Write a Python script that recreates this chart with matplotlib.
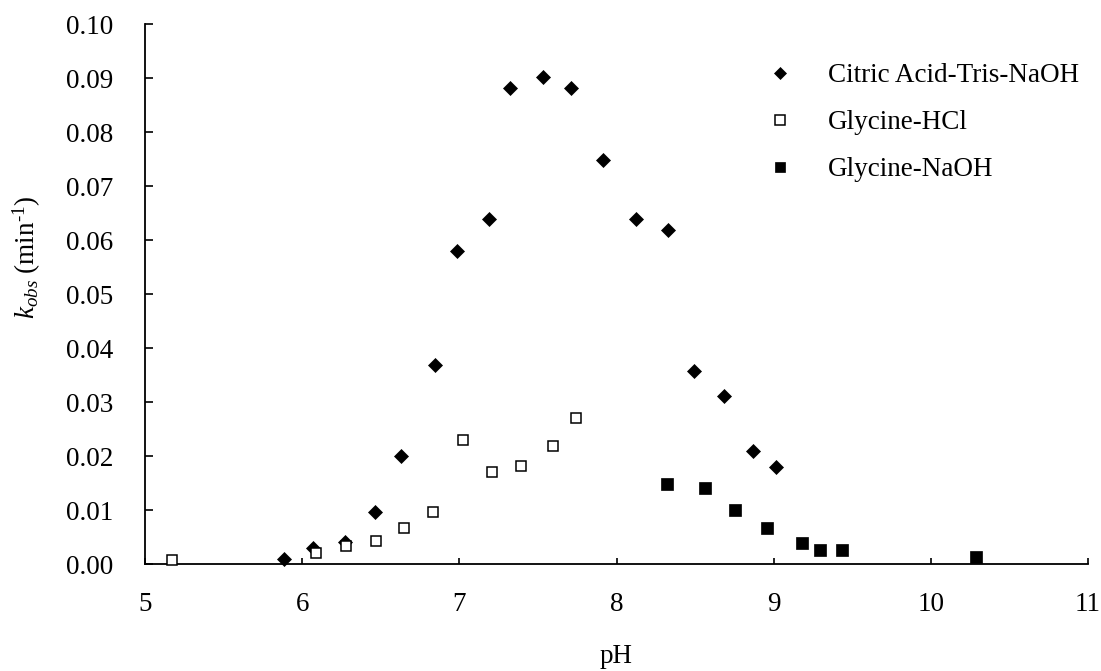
import matplotlib
matplotlib.use("Agg")
import matplotlib.pyplot as plt
from matplotlib.lines import Line2D
from matplotlib.ticker import FormatStrFormatter, MultipleLocator

# ---- data ----
citric_ph = [5.885, 6.07, 6.27, 6.465, 6.63, 6.843, 6.988, 7.189, 7.322, 7.534,
             7.712, 7.913, 8.125, 8.33, 8.49, 8.686, 8.866, 9.018]
citric_k = [0.0010, 0.0031, 0.0041, 0.0097, 0.0200, 0.0369, 0.0580, 0.0640, 0.0881,
            0.0901, 0.0881, 0.0748, 0.0640, 0.0619, 0.0358, 0.0311, 0.0210, 0.0180]

hcl_ph = [5.17, 6.09, 6.28, 6.47, 6.65, 6.83, 7.025, 7.21, 7.394, 7.597, 7.742]
hcl_k = [0.0008, 0.0021, 0.0034, 0.0044, 0.0067, 0.0096, 0.0230, 0.0170, 0.0182,
         0.0219, 0.0271]

naoh_ph = [8.32, 8.566, 8.757, 8.956, 9.181, 9.294, 9.437, 10.286]
naoh_k = [0.0149, 0.0141, 0.0100, 0.0067, 0.0040, 0.0026, 0.0026, 0.0014]

series_labels = ["Citric Acid-Tris-NaOH", "Glycine-HCl", "Glycine-NaOH"]
x_label = "pH"
y_label = r"$k_{obs}$ (min$^{\text{-1}}$)"

# ---- style ----
plt.rcParams["font.family"] = ["Liberation Serif", "DejaVu Serif"]
plt.rcParams["mathtext.fontset"] = "custom"
plt.rcParams["mathtext.rm"] = "Liberation Serif"
plt.rcParams["mathtext.it"] = "Liberation Serif:italic"
FS = 19.5

fig = plt.figure(figsize=(11.01, 6.71), dpi=100)
ax = fig.add_axes([145 / 1101, 1 - 564.3 / 671, 943 / 1101, 540.3 / 671])

ax.plot(citric_ph, citric_k, linestyle="none", marker="D", ms=6.9, mew=0.5,
        mfc="black", mec="black", zorder=3, clip_on=False)
ax.plot(hcl_ph, hcl_k, linestyle="none", marker="s", ms=7.4, mew=1.1,
        mfc="white", mec="black", zorder=4, clip_on=False)
ax.plot(naoh_ph, naoh_k, linestyle="none", marker="s", ms=8.2, mew=0.5,
        mfc="black", mec="black", zorder=3, clip_on=False)

ax.set_xlim(5, 11)
ax.set_ylim(0, 0.10)
ax.xaxis.set_major_locator(MultipleLocator(1))
ax.yaxis.set_major_locator(MultipleLocator(0.01))
ax.yaxis.set_major_formatter(FormatStrFormatter("%.2f"))

for s in ["top", "right"]:
    ax.spines[s].set_visible(False)
for s in ["left", "bottom"]:
    ax.spines[s].set_linewidth(1.3)

ax.tick_params(axis="y", direction="in", length=5.8, width=1.2, pad=23, labelsize=FS)
ax.tick_params(axis="x", direction="in", length=4.5, width=1.2, pad=20, labelsize=FS)

ax.set_xlabel(x_label, fontsize=FS, va="center")
ax.xaxis.set_label_coords(0.5, -0.170)
ax.set_ylabel(y_label, fontsize=FS, va="center")
ax.yaxis.set_label_coords(-0.125, 0.569)

handles = [
    Line2D([], [], linestyle="none", marker="D", ms=6.2, mew=0.5, mfc="black", mec="black"),
    Line2D([], [], linestyle="none", marker="s", ms=6.6, mew=1.1, mfc="white", mec="black"),
    Line2D([], [], linestyle="none", marker="s", ms=7.6, mew=0.5, mfc="black", mec="black"),
]
ax.legend(handles, series_labels, loc="upper left", bbox_to_anchor=(0.659, 0.927),
          frameon=False, fontsize=FS, handlelength=1.0, handletextpad=1.28,
          labelspacing=0.81, borderpad=0, borderaxespad=0)

fig.savefig("out.png", dpi=100)
